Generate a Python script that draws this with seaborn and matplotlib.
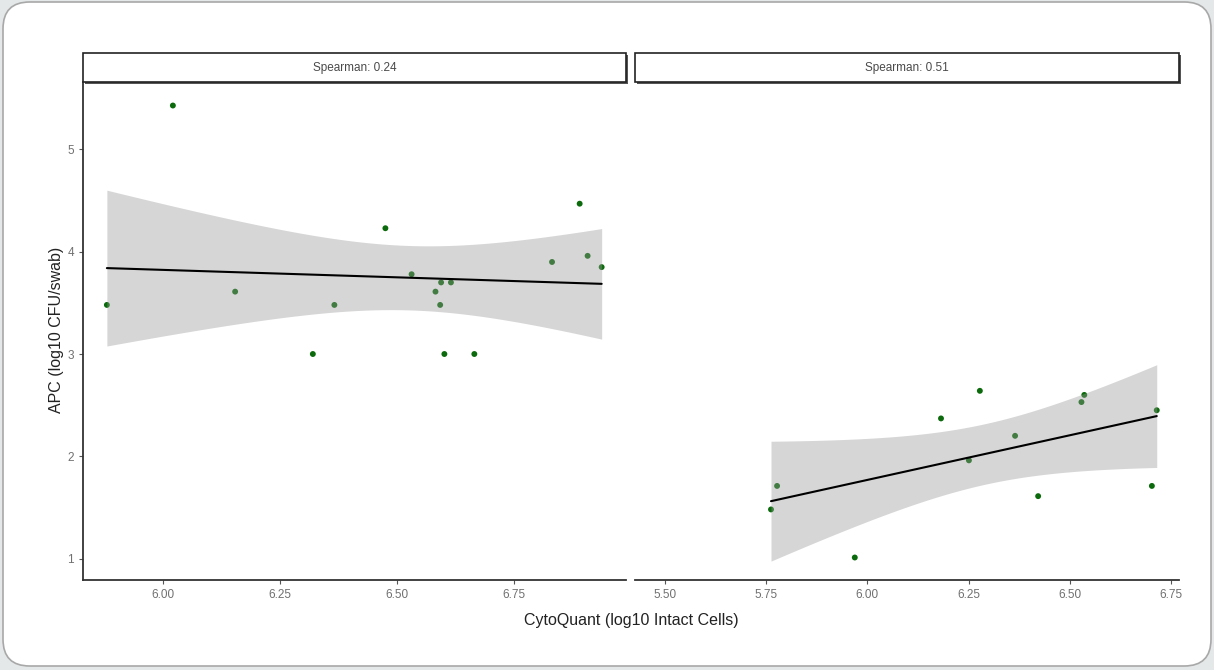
import numpy as np
import pandas as pd
import matplotlib
matplotlib.use("Agg")
import matplotlib.pyplot as plt
from matplotlib.patches import FancyBboxPatch, Rectangle
import seaborn as sns

# valori
cyto_sx = [5.880, 6.021, 6.154, 6.320, 6.366, 6.475, 6.531, 6.582, 6.594, 6.592,
           6.615, 6.601, 6.665, 6.831, 6.890, 6.907, 6.937]
apc_sx = [3.48, 5.43, 3.61, 3.00, 3.48, 4.23, 3.78, 3.61, 3.70, 3.48,
          3.70, 3.00, 3.00, 3.90, 4.47, 3.96, 3.85]

cyto_dx = [5.762, 5.777, 5.969, 6.182, 6.251, 6.278, 6.365, 6.422, 6.529, 6.536, 6.703, 6.715]
apc_dx = [1.48, 1.71, 1.01, 2.37, 1.96, 2.64, 2.20, 1.61, 2.53, 2.60, 1.71, 2.45]

titoli = ["Spearman: 0.24", "Spearman: 0.51"]
tick_sx = [6.00, 6.25, 6.50, 6.75]
tick_dx = [5.50, 5.75, 6.00, 6.25, 6.50, 6.75]
tick_y = [1, 2, 3, 4, 5]

# quantili t al 97.5% per n-2 gradi di liberta (15 e 10)
t_quant = {15: 2.131, 10: 2.228}

sns.set_style("ticks")
plt.rcParams['font.family'] = ['Liberation Sans', 'DejaVu Sans']

W, H = 1214, 670
fig = plt.figure(figsize=(W / 100, H / 100), dpi=100)
fig.patch.set_facecolor('#e4e8e9')

# scheda bianca con angoli arrotondati (sotto gli assi)
card = FancyBboxPatch((3 / W, 4 / H), (W - 6) / W, (H - 6) / H,
                      boxstyle="round,pad=0,rounding_size=0.022",
                      transform=fig.transFigure, facecolor='white',
                      edgecolor='#a8a8a8', linewidth=1.2, mutation_aspect=W / H,
                      zorder=-10)
fig.patches.append(card)

def nuovo_asse(x0, x1, y0=82, y1=580):
    return fig.add_axes([x0 / W, (H - y1) / H, (x1 - x0) / W, (y1 - y0) / H])

def banda_lm(ax, xs, ys):
    # intervallo di confidenza analitico come geom_smooth(method="lm")
    x = np.asarray(xs)
    y = np.asarray(ys)
    n = len(x)
    b, a = np.polyfit(x, y, 1)
    res = y - (a + b * x)
    s = np.sqrt(np.sum(res ** 2) / (n - 2))
    griglia = np.linspace(x.min(), x.max(), 80)
    se = s * np.sqrt(1 / n + (griglia - x.mean()) ** 2 / np.sum((x - x.mean()) ** 2))
    fit = a + b * griglia
    t = t_quant[n - 2]
    ax.fill_between(griglia, fit - t * se, fit + t * se, color='#999999', alpha=0.4,
                    linewidth=0, zorder=3)

ax_sx = nuovo_asse(83, 626)
ax_dx = nuovo_asse(635, 1179)

dati = [(ax_sx, cyto_sx, apc_sx, (5.829, 6.989), tick_sx),
        (ax_dx, cyto_dx, apc_dx, (5.426, 6.770), tick_dx)]

for i, (ax, xs, ys, xlim, xt) in enumerate(dati):
    df = pd.DataFrame({'cyto': xs, 'apc': ys})
    sns.regplot(data=df, x='cyto', y='apc', ax=ax, ci=None,
                scatter_kws=dict(s=18, color='#0b6a0b', edgecolor='none', alpha=1, zorder=2),
                line_kws=dict(color='black', linewidth=1.5, zorder=4))
    banda_lm(ax, xs, ys)
    ax.set_xlim(*xlim)
    ax.set_ylim(0.79, 5.66)
    ax.set_xticks(xt)
    ax.set_xticklabels([f"{v:.2f}" for v in xt])
    ax.set_xlabel('')
    ax.set_ylabel('')
    ax.set_facecolor('none')
    for s in ['top', 'right']:
        ax.spines[s].set_visible(False)
    ax.spines['bottom'].set_color('#333333')
    ax.spines['bottom'].set_linewidth(1.3)
    ax.tick_params(axis='both', colors='#555555', labelsize=8.5, length=3, width=0.8)
    ax.tick_params(axis='both', labelcolor='#707070')

    # striscia del facet
    h_strip = 29 / 498
    ombra = Rectangle((0.004, 1.0 - 0.004), 1.0, h_strip, transform=ax.transAxes,
                      facecolor='#555555', edgecolor='none', clip_on=False, zorder=4)
    ax.add_patch(ombra)
    strip = Rectangle((0, 1.0), 1.0, h_strip, transform=ax.transAxes,
                      facecolor='white', edgecolor='#222222', linewidth=1.2,
                      clip_on=False, zorder=5)
    ax.add_patch(strip)
    ax.text(0.5, 1.0 + h_strip / 2, titoli[i], transform=ax.transAxes,
            ha='center', va='center', fontsize=8.5, color='#4a4a4a', zorder=6)

ax_sx.set_yticks(tick_y)
ax_sx.spines['left'].set_color('#333333')
ax_sx.spines['left'].set_linewidth(1.3)

ax_dx.set_yticks(tick_y)
ax_dx.tick_params(axis='y', left=False, labelleft=False)
ax_dx.spines['left'].set_visible(False)

fig.text(631 / W, 1 - 620 / H, 'CytoQuant (log10 Intact Cells)', ha='center', va='center',
         fontsize=11.5, color='#222222')
fig.text(57 / W, 1 - 330 / H, 'APC (log10 CFU/swab)', ha='center', va='center',
         rotation=90, fontsize=11.5, color='#222222')

fig.savefig('out.png', dpi=100, facecolor=fig.get_facecolor())
